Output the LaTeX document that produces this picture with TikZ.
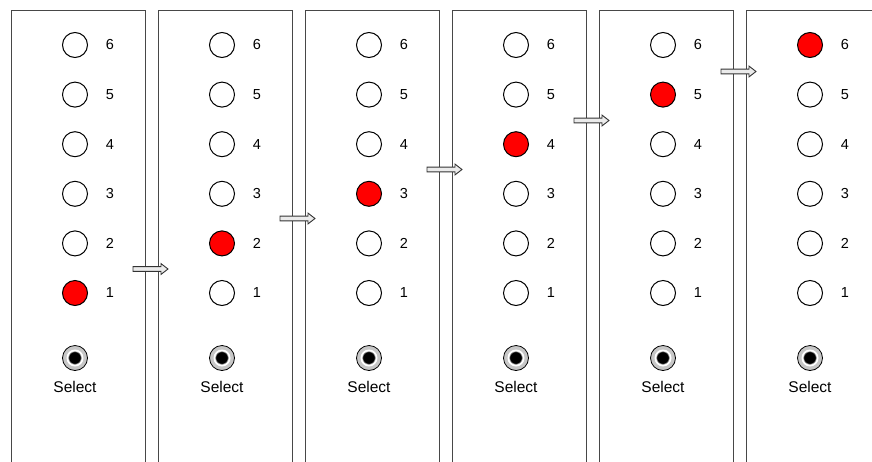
\documentclass[tikz,border=0pt]{standalone}
\usepackage{fontspec}
\setmainfont{Liberation Sans}
\begin{document}
\begin{tikzpicture}[x=1pt,y=-1pt,
  panel/.style={draw=black!72,line width=1.1pt},
  led/.style={circle,draw=black,line width=1pt,minimum size=25pt,inner sep=0pt,fill=white},
  ledon/.style={led,fill=red},
  lbl/.style={font=\fontsize{14.5}{16}\selectfont,inner sep=0pt},
  btnout/.style={circle,draw=black,line width=0.8pt,fill=black!22,minimum size=25pt,inner sep=0pt},
  btnmid/.style={circle,fill=white,minimum size=17pt,inner sep=0pt},
  btnin/.style={circle,fill=black,draw=black!50,line width=0.6pt,minimum size=12.5pt,inner sep=0pt},
  blockarrow/.style={draw=black!80,line width=0.9pt,fill=black!8,line join=miter}]
\useasboundingbox (0,0) rectangle (872,461);
\begin{scope}
\clip (0,0) rectangle (872,461);
\foreach \i in {0,...,5}{
  \pgfmathsetmacro{\xl}{11.5+147*\i}
  \pgfmathsetmacro{\xr}{145.5+147*\i}
  \draw[panel] (\xl,470) -- (\xl,10.5) -- (\xr,10.5) -- (\xr,470);
  \pgfmathsetmacro{\cx}{75+147*\i}
  \pgfmathsetmacro{\tx}{110+147*\i}
  \pgfmathtruncatemacro{\on}{\i+1}
  \foreach \k in {1,...,6}{
    \pgfmathsetmacro{\cy}{45+(6-\k)*49.6}
    \ifnum\k=\on
      \node[ledon] (led-\i-\k) at (\cx,\cy) {};
    \else
      \node[led] (led-\i-\k) at (\cx,\cy) {};
    \fi
    \node[lbl] (num-\i-\k) at (\tx,\cy) {\k};
  }
  \node[btnout] (btn-\i) at (\cx,358) {};
  \node[btnmid] (btnm-\i) at (\cx,358) {};
  \node[btnin] (btni-\i) at (\cx,358) {};
  \node[lbl,font=\fontsize{15.5}{17}\selectfont] (sel-\i) at (\cx,386.5) {Select};
}
\foreach \i/\ay in {0/269,1/218.5,2/169.5,3/120.5,4/71.5}{
  \pgfmathsetmacro{\ax}{133+147*\i}
  \begin{scope}[shift={(\ax,\ay)}]
    \draw[blockarrow] (0,-2.4) -- (28,-2.4) -- (28,-5.4) -- (35,0) -- (28,5.4) -- (28,2.4) -- (0,2.4) -- cycle;
  \end{scope}
}
\end{scope}
\end{tikzpicture}
\end{document}
